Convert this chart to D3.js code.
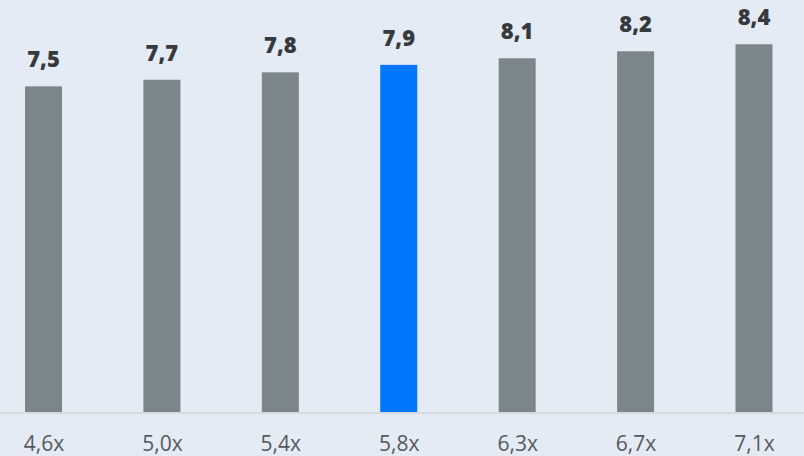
<!DOCTYPE html>
<html>
<head>
<meta charset="utf-8">
<script src="https://cdn.jsdelivr.net/npm/d3@7"></script>
<style>
  html, body { margin: 0; padding: 0; background: #e5ebf5; }
  svg { display: block; }
</style>
</head>
<body>
<svg id="chart"></svg>
<script>
var categories = ["4,6x", "5,0x", "5,4x", "5,8x", "6,3x", "6,7x", "7,1x"];
// bar heights (labels are rounded)
var values = [7.43, 7.58, 7.75, 7.92, 8.07, 8.23, 8.39];
var valueLabels = ["7,5", "7,7", "7,8", "7,9", "8,1", "8,2", "8,4"];
var highlighted = ["5,8x"];

var width = 804,
    height = 456,
    baseline = 412,
    barWidth = 37;

var svg = d3.select("#chart")
    .attr("width", width)
    .attr("height", height);

svg.append("rect")
    .attr("width", width)
    .attr("height", height)
    .attr("fill", "#e5ebf5");

var x = d3.scalePoint()
    .domain(categories)
    .range([43.5, 754]);

var y = d3.scaleLinear()
    .domain([0, 9.4])
    .range([baseline, 0]);

svg.append("g").selectAll("rect")
    .data(values)
    .enter().append("rect")
    .attr("x", function (d, i) { return x(categories[i]) - barWidth / 2; })
    .attr("y", function (d) { return y(d); })
    .attr("width", barWidth)
    .attr("height", function (d) { return baseline - y(d); })
    .attr("fill", function (d, i) {
        return highlighted.includes(categories[i]) ? "#0077ff" : "#7b868c";
    });

svg.append("line")
    .attr("x1", 0)
    .attr("x2", width)
    .attr("y1", baseline + 1)
    .attr("y2", baseline + 1)
    .attr("stroke", "#cfd3d8")
    .attr("stroke-width", 1.5);

svg.append("g").selectAll("text")
    .data(values)
    .enter().append("text")
    .attr("x", function (d, i) { return x(categories[i]); })
    .attr("y", function (d) { return y(d) - 19; })
    .attr("text-anchor", "middle")
    .attr("font-family", "'Open Sans', sans-serif")
    .attr("font-weight", "800")
    .attr("font-size", "22px")
    .attr("fill", "#363a3e")
    .text(function (d, i) { return valueLabels[i]; });

var xAxis = d3.axisBottom(x).tickSize(0).tickPadding(0);
var gx = svg.append("g")
    .attr("transform", "translate(0," + (baseline + 39) + ")")
    .call(xAxis);
gx.select(".domain").remove();
gx.selectAll("text")
    .attr("dy", 0)
    .attr("font-family", "'Open Sans', sans-serif")
    .attr("font-size", "21px")
    .attr("fill", "#55595e");
</script>
</body>
</html>
